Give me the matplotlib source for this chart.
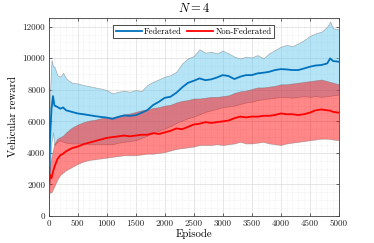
import matplotlib
matplotlib.use("Agg")
import matplotlib.pyplot as plt
from matplotlib.ticker import MultipleLocator

plt.rcParams['font.family'] = ['cmr10', 'DejaVu Serif']
plt.rcParams['mathtext.fontset'] = 'cm'
plt.rcParams['axes.unicode_minus'] = False
plt.rcParams['axes.formatter.use_mathtext'] = False

episodes = [0, 10, 25, 50, 75, 100, 150, 200, 250, 300,
            400, 500, 600, 700, 800, 900, 1000, 1100, 1200, 1300,
            1400, 1500, 1600, 1700, 1800, 1900, 2000, 2100, 2200, 2300,
            2400, 2500, 2600, 2700, 2800, 2900, 3000, 3100, 3200, 3300,
            3400, 3500, 3600, 3700, 3800, 3900, 4000, 4100, 4200, 4300,
            4400, 4500, 4600, 4700, 4800, 4850, 4900, 5000]

fed_mean = [570, 2000, 5000, 6800, 7600, 7000, 6920, 6800, 6880, 6700,
            6600, 6500, 6450, 6390, 6330, 6280, 6240, 6160, 6280, 6370,
            6350, 6390, 6540, 6710, 7030, 7240, 7490, 7560, 7810, 8150,
            8440, 8570, 8720, 8610, 8660, 8780, 8930, 8870, 8680, 8830,
            8930, 8930, 9040, 9080, 9140, 9250, 9310, 9290, 9250, 9250,
            9350, 9460, 9540, 9570, 9670, 9990, 9820, 9780]
fed_upper = [1500, 5000, 8000, 9900, 9500, 9460, 8930, 8830, 9080, 8720,
             8440, 8400, 8300, 8230, 8150, 8080, 7980, 7770, 7870, 7940,
             7870, 7980, 7920, 8300, 8510, 8660, 8830, 8930, 9140, 9670,
             9990, 10140, 10560, 10350, 10410, 10310, 10480, 10310, 10100, 9990,
             10100, 10050, 10200, 9990, 10310, 10520, 10730, 10840, 10770, 10940,
             11150, 11410, 11580, 11680, 12000, 12320, 11900, 11830]
fed_lower = [500, 1500, 3500, 4700, 5300, 4500, 4700, 4800, 4700, 4650,
             4600, 4600, 4600, 4550, 4550, 4550, 4550, 4550, 4650, 4700,
             4750, 4800, 4950, 5100, 5250, 5400, 5550, 5700, 5900, 6050,
             6200, 6300, 6450, 6600, 6700, 6800, 6900, 6950, 7000, 7100,
             7200, 7250, 7350, 7400, 7450, 7500, 7550, 7550, 7500, 7550,
             7600, 7550, 7600, 7550, 7600, 7620, 7650, 7700]

nonfed_mean = [3100, 2100, 2600, 2400, 2800, 3100, 3600, 3850, 3950, 4100,
               4300, 4400, 4550, 4650, 4750, 4850, 4950, 5000, 5050, 5100,
               5050, 5100, 5150, 5150, 5250, 5200, 5300, 5400, 5550, 5500,
               5650, 5800, 5850, 5950, 5900, 5950, 6000, 6050, 6200, 6300,
               6250, 6300, 6300, 6350, 6350, 6400, 6500, 6450, 6450, 6400,
               6450, 6550, 6700, 6750, 6700, 6680, 6600, 6550]
nonfed_upper = [3200, 3000, 3300, 3800, 4200, 4600, 4900, 5000, 5100, 5300,
                5600, 5800, 5950, 6050, 6100, 6200, 6250, 6250, 6350, 6450,
                6500, 6600, 6700, 6750, 6850, 6900, 7000, 7050, 7200, 7300,
                7350, 7450, 7450, 7500, 7550, 7550, 7600, 7650, 7800, 7900,
                7950, 8050, 8150, 8150, 8200, 8250, 8350, 8350, 8400, 8450,
                8500, 8550, 8600, 8650, 8550, 8500, 8450, 8350]
nonfed_lower = [2300, 1400, 1500, 1500, 1700, 1900, 2300, 2600, 2750, 2900,
                3100, 3300, 3450, 3550, 3600, 3650, 3700, 3750, 3800, 3850,
                3850, 3850, 3900, 3950, 3950, 4000, 4050, 4150, 4250, 4300,
                4350, 4400, 4500, 4500, 4500, 4550, 4500, 4550, 4600, 4700,
                4600, 4600, 4650, 4700, 4600, 4550, 4500, 4600, 4650, 4700,
                4750, 4800, 4850, 4900, 4900, 4880, 4850, 4800]

labels = ['Federated', 'Non-Federated']

fig = plt.figure(figsize=(3.74, 2.43), dpi=100)
ax = fig.add_axes([0.130, 0.111, 0.776, 0.815])

ax.fill_between(episodes, fed_lower, fed_upper, facecolor='#6CCBF0', alpha=0.5,
                edgecolor='#6a6a6a', linewidth=0.5, zorder=2)
ax.fill_between(episodes, nonfed_lower, nonfed_upper, facecolor='#FF0000', alpha=0.47,
                edgecolor='#6a6a6a', linewidth=0.5, zorder=3)
ax.plot(episodes, fed_mean, color='#0072BD', lw=1.3, label=labels[0], zorder=4)
ax.plot(episodes, nonfed_mean, color='#FF0000', lw=1.3, label=labels[1], zorder=5)

ax.set_xlim(0, 5000)
ax.set_ylim(0, 12550)
ax.xaxis.set_major_locator(MultipleLocator(500))
ax.xaxis.set_minor_locator(MultipleLocator(100))
ax.yaxis.set_major_locator(MultipleLocator(2000))
ax.yaxis.set_minor_locator(MultipleLocator(500))
ax.grid(True, which='major', color='#dcdcdc', lw=0.5, ls='-', zorder=0)
ax.grid(True, which='minor', color='#e8e8e8', lw=0.5, ls=':', zorder=0)
ax.set_axisbelow(True)
ax.tick_params(which='both', direction='in', top=True, right=True, labelsize=6.5,
               colors='#262626', length=2.5, width=0.5, pad=2.5)
ax.tick_params(which='minor', length=0)
for s in ax.spines.values():
    s.set_color('#404040')
    s.set_linewidth(0.6)

ax.set_xlabel('Episode', fontsize=7.8, labelpad=1)
ax.set_ylabel('Vehicular reward', fontsize=7.8, labelpad=3)
ax.set_title('$N = 4$', fontsize=9, pad=4)

leg = ax.legend(loc='upper center', bbox_to_anchor=(0.5, 0.985), ncol=2, fontsize=6.2,
                frameon=True, fancybox=False, edgecolor='black', framealpha=1,
                handlelength=3.0, handletextpad=0.3, columnspacing=0.6,
                borderpad=0.3, borderaxespad=0.45)
leg.get_frame().set_linewidth(0.5)

fig.savefig('out.png', dpi=100)
